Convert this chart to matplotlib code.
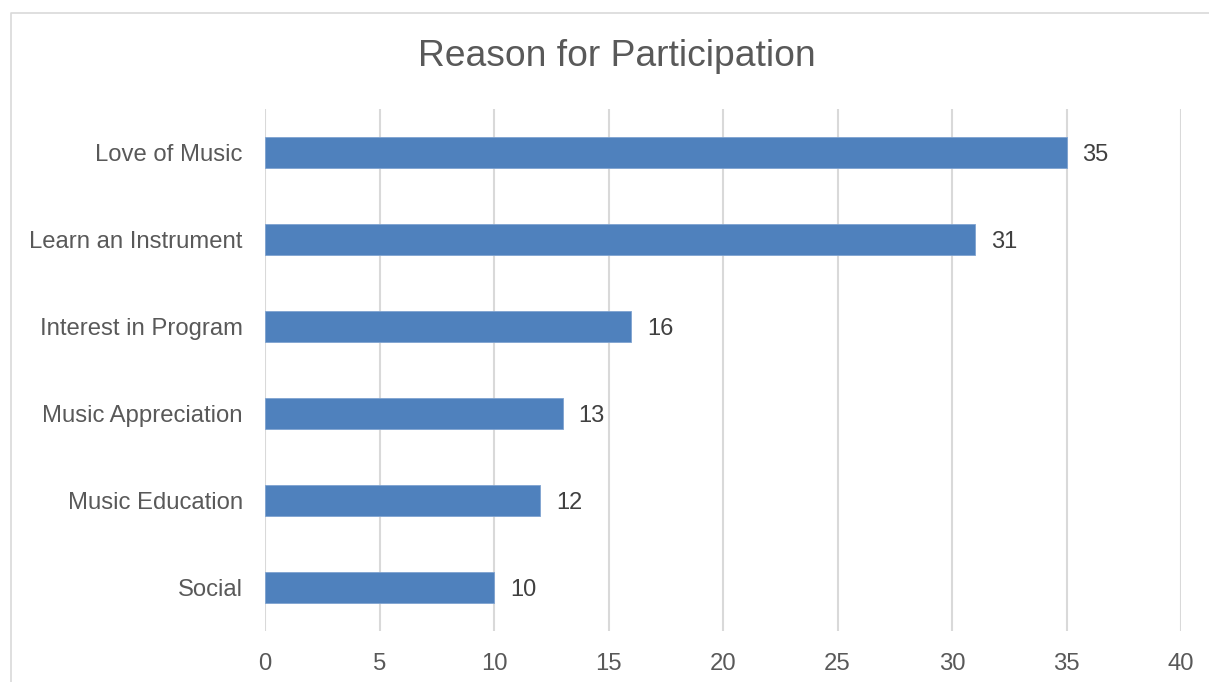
import matplotlib
matplotlib.use("Agg")
import matplotlib.pyplot as plt
from matplotlib.lines import Line2D

categories = ["Love of Music", "Learn an Instrument", "Interest in Program",
              "Music Appreciation", "Music Education", "Social"]
counts = [35, 31, 16, 13, 12, 10]
xticks = [0, 5, 10, 15, 20, 25, 30, 35, 40]

W, H = 1209, 682
plt.rcParams["font.family"] = ["Liberation Sans", "DejaVu Sans"]
fig = plt.figure(figsize=(W / 100, H / 100), dpi=100)
ax = fig.add_axes([265 / W, 1 - 631 / H, (1181 - 265) / W, (631 - 109) / H])

ypos = list(range(len(categories)))[::-1]
bars = ax.barh(ypos, counts, height=0.345, color="#4F81BD",
               edgecolor="#7FA3D0", linewidth=0.6, zorder=3)
for b, c in zip(bars, counts):
    ax.annotate(str(c), (c, b.get_y() + b.get_height() / 2),
                xytext=(11.5, -2), textcoords="offset points",
                ha="left", va="center", fontsize=17, color="#404040")

ax.set_xlim(0, 40)
ax.set_ylim(-0.5, len(categories) - 0.5)
ax.set_xticks(xticks)
ax.set_yticks(ypos)
ax.set_yticklabels(categories)
ax.tick_params(axis="both", length=0, labelsize=17.2, labelcolor="#595959")
ax.tick_params(axis="y", pad=16)
ax.tick_params(axis="x", pad=16)
ax.grid(axis="x", color="#D9D9D9", linewidth=1.5, zorder=0)
for s in ax.spines.values():
    s.set_visible(False)

fig.text(617 / W, 1 - 57 / H, "Reason for Participation", ha="center",
         va="center", fontsize=26.8, color="#595959")

# chart area border
fig.add_artist(Line2D([11 / W, 11 / W, 1.0], [0.0, 1 - 13 / H, 1 - 13 / H],
                      transform=fig.transFigure, color="#D9D9D9", lw=1.2))

fig.savefig("out.png", dpi=100)
